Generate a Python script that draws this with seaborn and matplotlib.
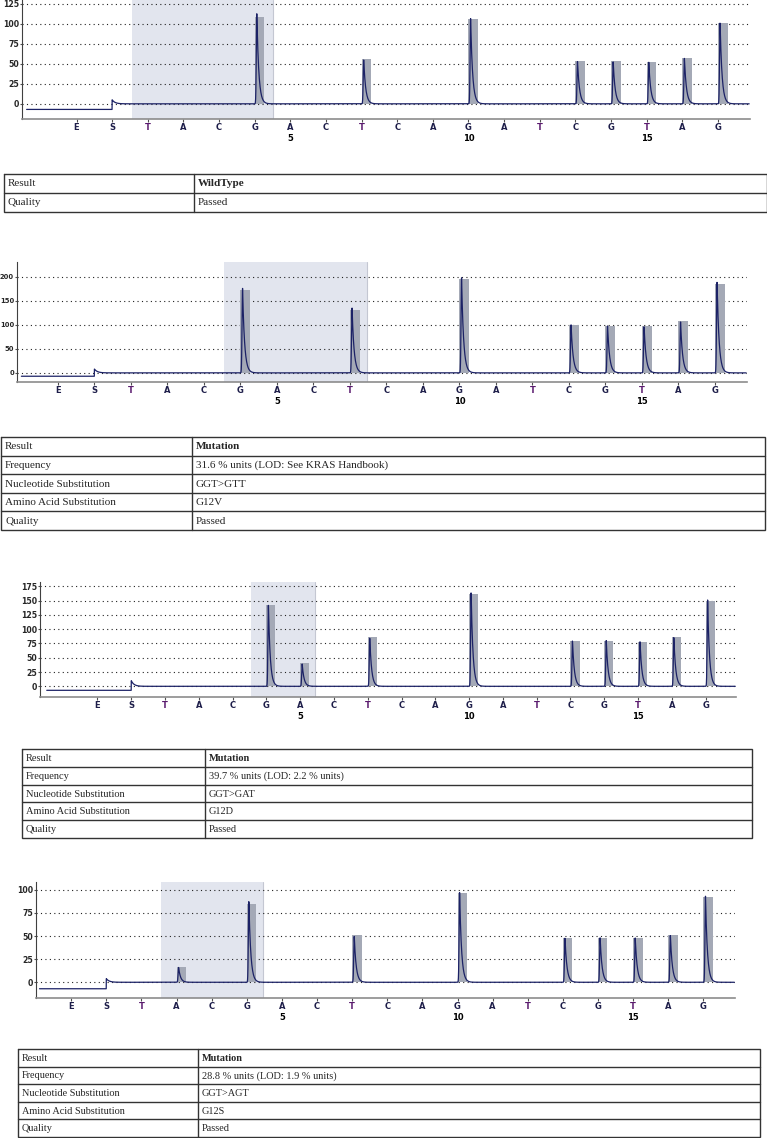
import numpy as np
import matplotlib
matplotlib.use('Agg')
import matplotlib.pyplot as plt
import seaborn as sns
import pandas as pd

sns.set_style('white')
plt.rcParams['font.family'] = ['DejaVu Sans']

W, H = 767, 1138

# dispensation order: E, S then dispensations 1..17
disp = ['E', 'S', 'T', 'A', 'C', 'G', 'A', 'C', 'T', 'C', 'A', 'G', 'A', 'T', 'C', 'G', 'T', 'A', 'G']
disp_pos = list(range(-1, 18))
num_labels = [5, 10, 15]

# panel 1 - wild type
p1_pos = [4, 7, 10, 13, 14, 15, 16, 17]
p1_bar = [109, 56, 106, 53, 53, 52, 58, 101]
p1_peak = [113, 55, 107, 53, 53, 52, 57, 102]
p1_yticks = [0, 25, 50, 75, 100, 125]
p1_shade = (0.55, 4.5)

# panel 2 - G12V
p2_pos = [4, 7, 10, 13, 14, 15, 16, 17]
p2_bar = [172, 131, 196, 100, 98, 98, 108, 185]
p2_peak = [176, 135, 198, 100, 98, 97, 106, 189]
p2_yticks = [0, 50, 100, 150, 200]
p2_shade = (3.55, 7.47)

# panel 3 - G12D
p3_pos = [4, 5, 7, 10, 13, 14, 15, 16, 17]
p3_bar = [142, 40, 86, 162, 79, 80, 78, 86, 150]
p3_peak = [143, 39, 85, 165, 80, 80, 78, 86, 151]
p3_yticks = [0, 25, 50, 75, 100, 125, 150, 175]
p3_shade = (3.55, 5.45)

# panel 4 - G12S
p4_pos = [2, 4, 7, 10, 13, 14, 15, 16, 17]
p4_bar = [16, 85, 51, 96, 48, 48, 48, 51, 92]
p4_peak = [16, 88, 50, 98, 48, 48, 48, 51, 93]
p4_yticks = [0, 25, 50, 75, 100]
p4_shade = (1.55, 4.45)

# result tables
t1_rows = ['Result', 'Quality']
t1_vals = ['WildType', 'Passed']
t_rows = ['Result', 'Frequency', 'Nucleotide Substitution', 'Amino Acid Substitution', 'Quality']
t2_vals = ['Mutation', '31.6 % units (LOD: See KRAS Handbook)', 'GGT>GTT', 'G12V', 'Passed']
t3_vals = ['Mutation', '39.7 % units (LOD: 2.2 % units)', 'GGT>GAT', 'G12D', 'Passed']
t4_vals = ['Mutation', '28.8 % units (LOD: 1.9 % units)', 'GGT>AGT', 'G12S', 'Passed']

SHADE = '#e2e5ee'
BAR = '#a4a9b6'
TRACE = '#1c2266'


def trace(pos, peak, start, end, s_bump):
    # pyrogram-like trace: flat before S, small bump at S, sharp peaks with tail
    x = np.arange(start, end, 0.003)
    y = np.where(x < 0, -7.0, 0.0)
    after = x >= 0
    y[after] += s_bump * np.exp(-x[after] / 0.08)
    for p, h in zip(pos, peak):
        t = x - (p + 0.06)
        y += np.where(t < 0, h * np.exp(-(t / 0.02) ** 2), h * np.exp(-t / 0.055))
    return pd.DataFrame({'x': x, 'y': y})


def px_axes(fig, l, r, t, b):
    return fig.add_axes([l / W, 1 - b / H, (r - l) / W, (b - t) / H])


fig = plt.figure(figsize=(W / 100, H / 100), dpi=100)

panels = [
    (p1_pos, p1_bar, p1_peak, p1_yticks, p1_shade, (22, 750, 0, 119), (-19, 130), (-2.53, 17.9), -2.4, 5, 5.6),
    (p2_pos, p2_bar, p2_peak, p2_yticks, p2_shade, (17, 747, 262, 382), (-19, 231), (-2.12, 17.88), -2.0, 8, 4.9),
    (p3_pos, p3_bar, p3_peak, p3_yticks, p3_shade, (40, 736, 582, 697), (-18.7, 182.5), (-2.7, 17.9), -2.5, 10, 5.6),
    (p4_pos, p4_bar, p4_peak, p4_yticks, p4_shade, (36, 735, 882, 998), (-17, 108.4), (-2.0, 17.9), -1.9, 4, 5.6),
]

for pos, bar, peak, yt, shade, box, ylim, xlim, start, sb, yfs in panels:
    ax = px_axes(fig, *box)
    ax.set_axisbelow(True)
    ax.axvspan(shade[0], shade[1], color=SHADE, zorder=0.2, lw=0)
    ax.axvline(shade[1], color='#c4c7d2', lw=0.8, zorder=0.3)
    ax.bar(pos, bar, width=0.27, align='edge', color=BAR, zorder=2, lw=0)
    df = trace(pos, peak, start, xlim[1] - 0.02, sb)
    sns.lineplot(data=df, x='x', y='y', ax=ax, color=TRACE, lw=0.9, zorder=3)
    ax.set_xlim(*xlim)
    ax.set_ylim(*ylim)
    ax.set_yticks(yt)
    ax.set_yticklabels([str(v) for v in yt], fontsize=yfs, fontweight='bold')
    ax.set_xticks(disp_pos)
    ax.set_xticklabels(disp, fontsize=6, fontweight='bold')
    for lab, d in zip(ax.get_xticklabels(), disp):
        lab.set_color('#5a1a6e' if d == 'T' else '#1e1e4a')
    ax.yaxis.grid(True, linestyle=(0, (1, 3)), color='#222222', lw=0.8)
    ax.xaxis.grid(False)
    ax.tick_params(axis='x', direction='out', bottom=True, length=2, width=0.8, pad=1.2, color='#505050')
    ax.tick_params(axis='y', direction='out', left=True, length=1.5, width=0.8, pad=0.6, color='#505050')
    for s in ['top', 'right']:
        ax.spines[s].set_visible(False)
    ax.spines['left'].set_color('#404040')
    ax.spines['bottom'].set_color('#8c8c8c')
    ax.spines['bottom'].set_linewidth(1.2)
    ax.set_xlabel('')
    ax.set_ylabel('')
    for n in num_labels:
        ax.annotate(str(n), xy=(n, 0), xycoords=('data', 'axes fraction'),
                    xytext=(0, -13.8), textcoords='offset points',
                    ha='center', va='center', fontsize=6, fontweight='bold', color='black')

# tables drawn on a full-figure pixel axes
tax = fig.add_axes([0, 0, 1, 1], zorder=-1)
tax.set_xlim(0, W)
tax.set_ylim(H, 0)
tax.axis('off')

tables = [
    (t1_rows, t1_vals, 4, 767, 174, 211.5, 194, 8),
    (t_rows, t2_vals, 1, 765, 437, 530, 192, 8),
    (t_rows, t3_vals, 22, 752, 749, 838, 205, 7.5),
    (t_rows, t4_vals, 18, 760, 1049, 1137, 198, 7.4),
]
for rows, vals, l, r, t, b, div, fs in tables:
    rh = (b - t) / len(rows)
    tax.plot([l, r, r, l, l], [t, t, b, b, t], color='#333333', lw=1.0, solid_joinstyle='miter')
    tax.plot([div, div], [t, b], color='#333333', lw=1.0)
    for i, (lab, val) in enumerate(zip(rows, vals)):
        yc = t + rh * (i + 0.5)
        if i > 0:
            tax.plot([l, r], [t + rh * i, t + rh * i], color='#333333', lw=1.0)
        tax.text(l + 4, yc + 0.5, lab, fontsize=fs, family='Liberation Serif', va='center', ha='left')
        tax.text(div + 4, yc + 0.5, val, fontsize=fs, family='Liberation Serif', va='center', ha='left',
                 fontweight='bold' if i == 0 else 'normal')

fig.savefig('out.png', dpi=100)
